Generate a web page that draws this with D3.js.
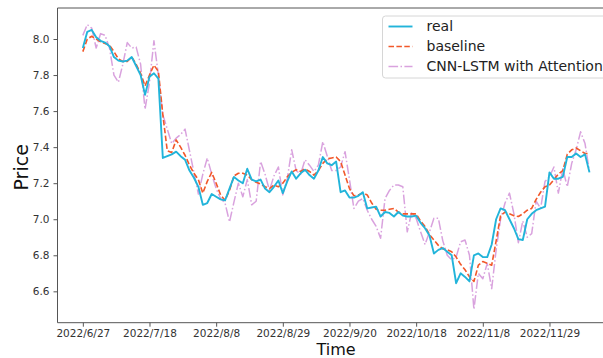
<!DOCTYPE html>
<html>
<head>
<meta charset="utf-8">
<script src="https://cdn.jsdelivr.net/npm/d3@7"></script>
<style>
  html, body { margin: 0; padding: 0; background: #fff; }
  svg { display: block; font-family: "DejaVu Sans", sans-serif; }
</style>
</head>
<body>
<svg id="chart" width="603" height="358"></svg>
<script>
// Daily closing price, one value per trading day starting 2022/6/27
const real = [
  7.95, 8.04, 8.05, 8.01, 7.99, 7.98, 7.96, 7.90, 7.88, 7.875,
  7.88, 7.90, 7.85, 7.80, 7.69, 7.79, 7.81, 7.78, 7.34, 7.35,
  7.36, 7.375, 7.35, 7.33, 7.27, 7.23, 7.18, 7.08, 7.09, 7.14,
  7.125, 7.11, 7.105, 7.17, 7.235, 7.215, 7.20, 7.28, 7.22, 7.21,
  7.22, 7.17, 7.15, 7.18, 7.215, 7.145, 7.21, 7.265, 7.225, 7.255,
  7.275, 7.245, 7.225, 7.27, 7.345, 7.31, 7.30, 7.32, 7.15, 7.16,
  7.12, 7.12, 7.13, 7.15, 7.06, 7.065, 7.07, 7.015, 7.04, 7.035,
  7.015, 7.04, 7.02, 7.015, 7.015, 7.02, 6.98, 6.95, 6.91, 6.81,
  6.83, 6.84, 6.82, 6.80, 6.645, 6.70, 6.68, 6.655, 6.80, 6.81,
  6.79, 6.79, 6.86, 7.00, 7.06, 7.05, 7.00, 6.95, 6.89, 6.885,
  7.00, 7.03, 7.05, 7.06, 7.07, 7.26, 7.225, 7.225, 7.235, 7.345,
  7.345, 7.365, 7.345, 7.36, 7.26
];

const baseline = [
  7.93, 8.00, 8.015, 8.00, 7.985, 7.975, 7.965, 7.93, 7.89, 7.875,
  7.875, 7.90, 7.86, 7.81, 7.74, 7.80, 7.855, 7.82, 7.58, 7.38,
  7.37, 7.44, 7.40, 7.355, 7.30, 7.255, 7.22, 7.145, 7.21, 7.26,
  7.20, 7.135, 7.105, 7.16, 7.24, 7.255, 7.255, 7.245, 7.22, 7.205,
  7.195, 7.18, 7.17, 7.19, 7.18, 7.20, 7.235, 7.26, 7.275, 7.265,
  7.28, 7.265, 7.245, 7.27, 7.31, 7.335, 7.34, 7.345, 7.32, 7.245,
  7.17, 7.13, 7.135, 7.145, 7.135, 7.09, 7.055, 7.05, 7.05, 7.055,
  7.06, 7.04, 7.03, 7.03, 7.03, 7.03, 6.99, 6.96, 6.915, 6.885,
  6.855, 6.835, 6.83, 6.82, 6.79, 6.75, 6.72, 6.68, 6.655, 6.745,
  6.765, 6.755, 6.745, 6.88, 7.02, 7.04, 7.03, 7.02, 7.015, 7.03,
  7.05, 7.06, 7.11, 7.15, 7.18, 7.19, 7.22, 7.25, 7.27, 7.36,
  7.385, 7.395, 7.38, 7.365, 7.365
];

const cnnLstmAttention = [
  8.02, 8.08, 8.06, 7.95, 8.03, 8.02, 7.95, 7.80, 7.76, 7.86,
  7.98, 7.95, 7.955, 7.86, 7.61, 7.76, 7.99, 7.80, 7.58, 7.50,
  7.42, 7.45, 7.47, 7.50, 7.38, 7.26, 7.14, 7.25, 7.34, 7.25,
  7.17, 7.115, 7.09, 6.985, 7.095, 7.20, 7.125, 7.22, 7.08, 7.10,
  7.32, 7.25, 7.16, 7.24, 7.29, 7.135, 7.225, 7.385, 7.27, 7.25,
  7.33, 7.30, 7.265, 7.30, 7.43, 7.35, 7.27, 7.27, 7.29, 7.375,
  7.22, 7.06, 7.10, 7.115, 7.05, 7.00, 6.96, 6.895, 7.115, 7.16,
  7.19, 7.19, 7.18, 6.93, 7.04, 7.005, 6.93, 6.86, 6.93, 7.005,
  7.005, 6.88, 6.80, 6.775, 6.79, 6.875, 6.885, 6.80, 6.50, 6.70,
  6.67, 6.755, 6.615, 6.83, 7.00, 7.09, 7.145, 7.03, 6.87, 6.99,
  6.90, 6.92, 7.10, 7.06, 7.21, 7.235, 7.29, 7.145, 7.28, 7.18,
  7.31, 7.385, 7.485, 7.42, 7.265
];

// Date ticks, one every 15 trading days
const tickIndex = [0, 15, 30, 45, 60, 75, 90, 105];
const tickLabels = ["2022/6/27", "2022/7/18", "2022/8/8", "2022/8/29",
                    "2022/9/20", "2022/10/18", "2022/11/8", "2022/11/29"];
const yTicks = [6.6, 6.8, 7.0, 7.2, 7.4, 7.6, 7.8, 8.0];

const seriesNames = ["real", "baseline", "CNN-LSTM with Attention"];

const svg = d3.select("#chart");

const plot = { left: 57.5, right: 614.8, top: 8, bottom: 322.7 };

const x = d3.scaleLinear().domain([-5.7, 119.7]).range([plot.left, plot.right]);
const y = d3.scaleLinear().domain([6.426, 8.172]).range([plot.bottom, plot.top]);

const styles = [
  { data: real, color: "#22b4da", width: 1.9, dash: null },
  { data: baseline, color: "#f2582a", width: 1.6, dash: "5.5,2.4" },
  { data: cnnLstmAttention, color: "#d9a2de", width: 1.5, dash: "9.6,2.4,1.5,2.4" }
];

const line = d3.line().x((d, i) => x(i)).y(d => y(d));

const g = svg.append("g");

// series, drawn so the prediction lines sit beneath the observed price
[2, 1, 0].forEach(k => {
  const s = styles[k];
  g.append("path")
    .datum(s.data)
    .attr("fill", "none")
    .attr("stroke", s.color)
    .attr("stroke-width", s.width)
    .attr("stroke-linejoin", "round")
    .attr("stroke-dasharray", s.dash)
    .attr("d", line);
});

// frame
const spine = "#555";
svg.append("line").attr("x1", plot.left).attr("x2", plot.right)
  .attr("y1", plot.top).attr("y2", plot.top).attr("stroke", spine).attr("stroke-width", 1);

// x axis
const xAxis = d3.axisBottom(x)
  .tickValues(tickIndex)
  .tickFormat((d, i) => tickLabels[i])
  .tickSize(4).tickPadding(3);
const gx = svg.append("g").attr("transform", `translate(0,${plot.bottom})`).call(xAxis);
gx.select(".domain").attr("d", `M${plot.left},0H${plot.right}`).attr("stroke", spine);
gx.selectAll(".tick line").attr("stroke", spine);
gx.selectAll(".tick text").attr("fill", "#333").style("font-size", "10.5px")
  .style("font-family", "'DejaVu Sans', sans-serif");

// y axis
const yAxis = d3.axisLeft(y).tickValues(yTicks).tickFormat(d3.format(".1f"))
  .tickSize(4).tickPadding(4);
const gy = svg.append("g").attr("transform", `translate(${plot.left},0)`).call(yAxis);
gy.select(".domain").attr("d", `M0,${plot.bottom}V${plot.top}`).attr("stroke", spine);
gy.selectAll(".tick line").attr("stroke", spine);
gy.selectAll(".tick text").attr("fill", "#333").style("font-size", "10.5px")
  .style("font-family", "'DejaVu Sans', sans-serif");

// axis titles
svg.append("text").attr("x", 336).attr("y", 355).attr("text-anchor", "middle")
  .style("font-size", "16px").attr("fill", "#111").text("Time");
svg.append("text")
  .attr("transform", `translate(28,${(plot.top + plot.bottom) / 2 + 2}) rotate(-90)`)
  .attr("text-anchor", "middle").style("font-size", "19px").attr("fill", "#111").text("Price");

// legend
const lg = svg.append("g").attr("transform", "translate(382.5,16)");
lg.append("rect").attr("x", 0).attr("y", 0).attr("width", 240).attr("height", 62)
  .attr("rx", 3).attr("fill", "#fff").attr("fill-opacity", 0.85)
  .attr("stroke", "#d6d6d6").attr("stroke-width", 1);
seriesNames.forEach((name, i) => {
  const s = styles[i];
  const yy = 10.5 + i * 20;
  lg.append("line").attr("x1", 6).attr("x2", 30).attr("y1", yy).attr("y2", yy)
    .attr("stroke", s.color).attr("stroke-width", s.width)
    .attr("stroke-dasharray", s.dash);
  lg.append("text").attr("x", 44).attr("y", yy).attr("dy", "0.35em")
    .style("font-size", "14px").attr("fill", "#222").text(name);
});
</script>
</body>
</html>
